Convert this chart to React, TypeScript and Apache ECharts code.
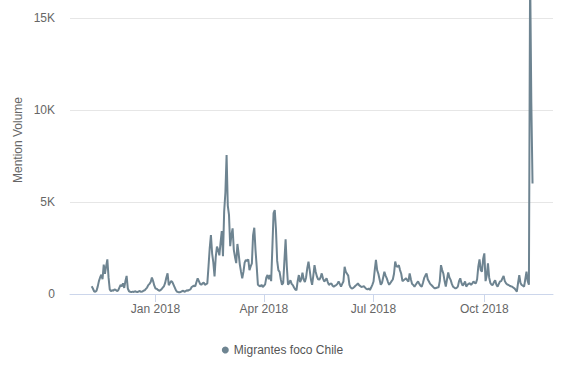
import React, { useEffect, useRef } from "react";
import * as echarts from "echarts";

const SERIES_NAME = "Migrantes foco Chile";
const START_DATE = "2017-11-09"; // first daily point
const TICK_DATES = ["2018-01-01", "2018-04-01", "2018-07-01", "2018-10-01"];
const TICK_LABELS = ["Jan 2018", "Apr 2018", "Jul 2018", "Oct 2018"];
const AXIS_MIN_DATE = "2017-10-22";
const AXIS_MAX_DATE = "2018-11-27";

// daily mention volume
const VALUES_NOV_DEC = [
  420, 300, 150, 120, 180, 400, 700, 900, 1050, 800,
  1600, 1100, 1500, 1880, 900, 250, 150, 200, 180, 250,
  220, 160, 200, 350, 500, 420, 580, 330, 700, 980,
  300, 150, 120, 100, 130, 110, 150, 120, 100, 140,
  160, 120, 130, 180, 200, 280, 350, 480, 550, 650,
  900, 700, 450,
];
const VALUES_JAN_MAR = [
  300, 280, 220, 180, 200, 260, 350, 420, 600, 900,
  1120, 480, 600, 700, 650, 500, 350, 200, 120, 100,
  90, 120, 150, 180, 120, 160, 200, 180, 220, 250,
  380, 420, 450, 420, 650, 850, 700, 550, 500, 580,
  620, 500, 540, 580, 1500, 2500, 3200, 2200, 1700, 950,
  2000, 2570, 2400, 2100, 2800, 3420, 2050, 4500, 5500, 7550,
  4800, 4300, 2600, 3200, 3570, 2400, 2000, 1680, 2720, 2200,
  1600, 1200, 850, 1200, 1700, 1850, 1800, 1880, 1300, 1500,
  1660, 3200, 3600, 2400, 1500, 500, 450, 420, 500, 380,
];
const VALUES_APR_JUN = [
  450, 520, 900, 1030, 800, 1030, 700, 2500, 4400, 4560,
  3500, 1800, 1300, 1200, 800, 500, 600, 1800, 2970, 1500,
  500, 600, 750, 550, 480, 350, 250, 200, 700, 1030,
  650, 800, 1160, 800, 650, 900, 1400, 1760, 1300, 800,
  500, 1000, 1570, 1200, 950, 800, 780, 900, 1120, 850,
  680, 750, 860, 650, 490, 550, 580, 450, 400, 450,
  480, 550, 680, 550, 400, 550, 680, 1480, 1200, 1100,
  1000, 500, 350, 300, 320, 380, 450, 500, 580, 480,
  430, 380, 400, 420, 350, 280, 250, 300, 220, 350,
  500,
];
const VALUES_JUL_SEP = [
  680, 1300, 1850, 1300, 1100, 800, 500, 600, 900, 1210,
  1000, 850, 650, 500, 600, 700, 790, 1100, 1760, 1500,
  1480, 1570, 1300, 1100, 700, 750, 800, 860, 750, 680,
  1120, 800, 550, 490, 400, 500, 600, 680, 550, 450,
  400, 600, 860, 1000, 1120, 800, 680, 550, 490, 420,
  350, 310, 330, 350, 360, 700, 1570, 1300, 1100, 700,
  400, 800, 1170, 900, 770, 550, 400, 350, 310, 330,
  400, 700, 850, 600, 450, 550, 680, 400, 500, 560,
  580, 500, 580, 680, 600, 590, 800, 1500, 1880, 1300,
  1210, 1900,
];
const VALUES_OCT_NOV = [
  2210, 700, 1000, 1660, 900, 600, 500, 490, 650, 750,
  500, 400, 550, 680, 700, 850, 980, 700, 580, 520,
  490, 450, 420, 400, 350, 310, 220, 130, 600, 1030,
  600, 490, 450, 400, 800, 1210, 700, 500, 17500, 10400,
  6000,
];

const COLOR = "#6e8491";
const FONT = "'Liberation Sans', Arial, sans-serif";

function utc(d: string): number {
  const [y, m, day] = d.split("-").map(Number);
  return Date.UTC(y, m - 1, day);
}

export default function App() {
  const ref = useRef<HTMLDivElement>(null);

  useEffect(() => {
    if (!ref.current) return;
    const chart = echarts.init(ref.current, undefined, { renderer: "svg" });
    const values = [
      ...VALUES_NOV_DEC,
      ...VALUES_JAN_MAR,
      ...VALUES_APR_JUN,
      ...VALUES_JUL_SEP,
      ...VALUES_OCT_NOV,
    ];
    const start = utc(START_DATE);
    const DAY = 86400000;
    const data = values.map((v, i) => [start + i * DAY, v]);
    const tickTs = TICK_DATES.map(utc);

    chart.setOption({
      animation: false,
      grid: { left: 70, right: 12, top: 18, bottom: 75, containLabel: false },
      legend: {
        data: [{ name: SERIES_NAME, icon: "circle" }],
        left: "center",
        top: 339,
        itemWidth: 7,
        itemHeight: 7,
        itemGap: 5,
        textStyle: { color: "#555", fontSize: 12, fontFamily: FONT },
      },
      xAxis: {
        type: "value",
        min: utc(AXIS_MIN_DATE),
        max: utc(AXIS_MAX_DATE),
        axisLine: { show: true, lineStyle: { color: "#ccd6eb", width: 1 } },
        axisTick: {
          show: true,
          length: 8,
          lineStyle: { color: "#ccd6eb" },
          customValues: tickTs,
        },
        axisLabel: {
          customValues: tickTs,
          color: "#666",
          fontSize: 12,
          fontFamily: FONT,
          margin: 9,
          formatter: (v: number) => {
            const idx = tickTs.findIndex((t) => Math.abs(t - v) < 3600000);
            return idx >= 0 ? TICK_LABELS[idx] : "";
          },
        },
        splitLine: { show: false },
      },
      yAxis: {
        type: "value",
        min: 0,
        max: 15000,
        interval: 5000,
        axisLine: { show: false },
        axisTick: { show: false },
        axisLabel: {
          color: "#666",
          fontSize: 12,
          fontFamily: FONT,
          margin: 15,
          formatter: (v: number) => (v === 0 ? "0" : v / 1000 + "K"),
        },
        splitLine: { lineStyle: { color: "#e6e6e6", width: 1 } },
      },
      graphic: [
        {
          type: "text",
          x: 18,
          y: 140,
          rotation: Math.PI / 2,
          style: {
            text: "Mention Volume",
            align: "center",
            verticalAlign: "middle",
            fill: "#666",
            font: `12px ${FONT}`,
          },
        },
      ],
      series: [
        {
          name: SERIES_NAME,
          type: "line",
          data,
          showSymbol: false,
          symbol: "circle",
          clip: false,
          lineStyle: { color: COLOR, width: 2 },
          itemStyle: { color: COLOR },
        },
      ],
    });
    return () => chart.dispose();
  }, []);

  return (
    <div
      ref={ref}
      style={{ position: "absolute", left: 0, top: 0, width: 565, height: 369 }}
    />
  );
}
